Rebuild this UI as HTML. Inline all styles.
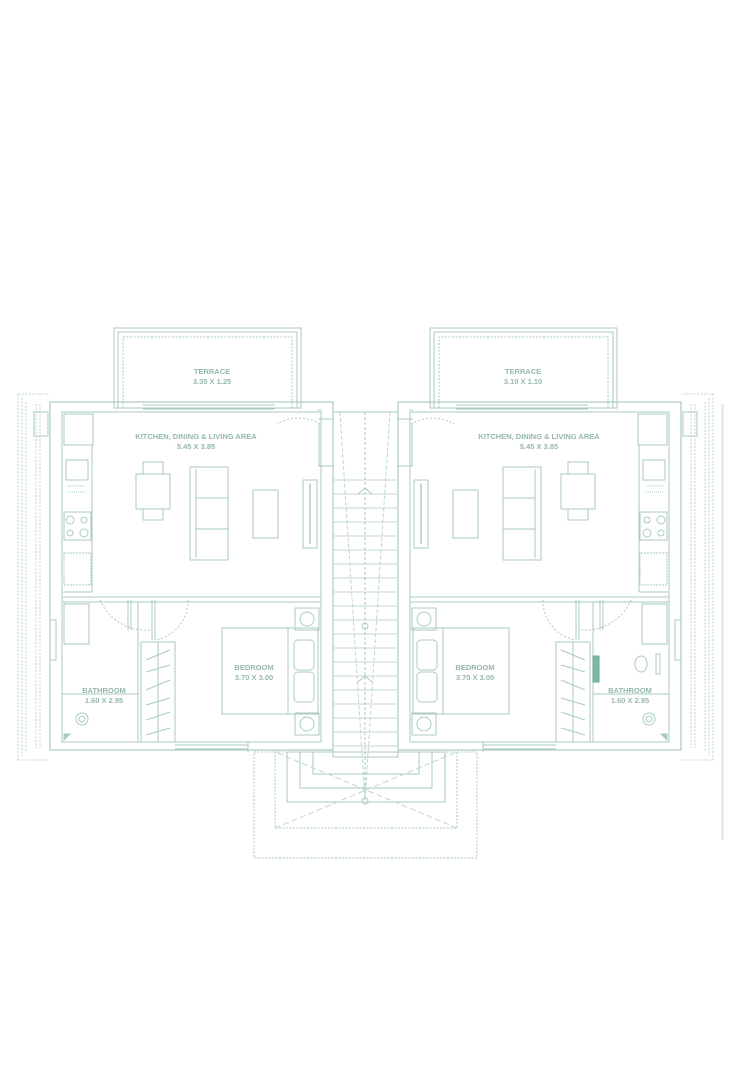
<!DOCTYPE html>
<html><head><meta charset="utf-8"><style>
html,body{margin:0;padding:0;background:#fff;width:731px;height:1080px;overflow:hidden}
svg{display:block}
text{font-family:"Liberation Sans",sans-serif;font-weight:bold;fill:#95b8ad;font-size:7.5px;text-anchor:middle}
</style></head><body>
<svg width="731" height="1080" viewBox="0 0 731 1080" xmlns="http://www.w3.org/2000/svg">
<defs>
<g id="unit" fill="none" stroke="#a9cbc1" stroke-width="1">
  <g stroke-dasharray="2,1.5" stroke="#bdd6cf">
    <path d="M18,394 H50 M18,394 V760 M22,398 V756 M26,402 V752 M18,760 H50 M36,404 V748 M40,404 V748"/>
  </g>
  <rect x="34" y="412" width="14" height="24"/>
  <rect x="114" y="328" width="187" height="80"/>
  <rect x="118" y="332" width="179" height="76"/>
  <rect x="123" y="337" width="169" height="71" stroke-dasharray="2,1.5"/>
  <rect x="50" y="402" width="283" height="348" stroke-width="1.2"/>
  <rect x="62" y="412" width="259" height="330"/>
  <path d="M143,405 H275 M143,409 H275"/>
  <rect x="64" y="414" width="29" height="31"/>
  <path d="M92,445 V592 M63,592 H92"/>
  <rect x="66" y="460" width="22" height="20"/>
  <path d="M68,486 H86 M68,492 H86" stroke-dasharray="1,1"/>
  <rect x="64" y="512" width="27" height="28"/>
  <circle cx="70" cy="520" r="4"/><circle cx="84" cy="520" r="3"/><circle cx="70" cy="533" r="3"/><circle cx="84" cy="533" r="4"/>
  <rect x="64" y="553" width="27" height="32" stroke-dasharray="2,1"/>
  <path d="M62,597 H321 M62,602 H321" />
  <rect x="136" y="474" width="34" height="35"/>
  <rect x="143" y="462" width="20" height="12"/>
  <rect x="143" y="509" width="20" height="11"/>
  <rect x="190" y="467" width="38" height="93"/>
  <path d="M196,469 V558 M196,498 H228 M196,529 H228"/>
  <rect x="253" y="490" width="25" height="48"/>
  <rect x="303" y="480" width="14" height="68"/>
  <path d="M310,484 V544" stroke-width="1.5"/>
  <path d="M320,424 A42,42 0 0,0 277,424" stroke-dasharray="2,2"/>
  <path d="M319,424 V466" />
  <path d="M318,410 H322 M318,466 H334 M318,419 H334"/>
  <path d="M100,600 A50,50 0 0,0 150,630 M188,600 A40,40 0 0,1 156,640" stroke-dasharray="2,2"/>
  <path d="M128,600 V630 M131,600 V630 M152,600 V640 M155,600 V640"/>
  <path d="M138,602 V742 M62,694 H138"/>
  <rect x="64" y="604" width="25" height="40"/>
  <circle cx="82" cy="719" r="6"/><circle cx="82" cy="719" r="3"/>
  <path d="M64,740 L70,734 L64,734Z" fill="#a9cbc1"/>
  <path d="M50,660 H56 V620 H50"/>
  <rect x="141" y="642" width="34" height="100"/>
  <path d="M158,642 V742"/>
  <path d="M146,660 L170,650 M146,672 L170,665 M146,690 L170,680 M146,705 L170,698 M146,720 L170,712 M146,735 L170,728"/>
  <rect x="222" y="628" width="96" height="86"/>
  <path d="M288,628 V714"/>
  <rect x="294" y="640" width="20" height="30" rx="4"/>
  <rect x="294" y="672" width="20" height="30" rx="4"/>
  <rect x="295" y="608" width="24" height="22"/><circle cx="307" cy="619" r="7"/>
  <rect x="295" y="713" width="24" height="22"/><circle cx="307" cy="724" r="7"/>
  <path d="M175,745 H248 M175,749 H248 M248,742 V752"/>
</g>
</defs>
<use href="#unit"/>
<use href="#unit" transform="translate(731,0) scale(-1,1)"/>
<g fill="none" stroke="#a9cbc1" stroke-width="1">
  <ellipse cx="641" cy="664" rx="6" ry="8"/><rect x="656" y="654" width="4" height="20"/>
  <rect x="593" y="656" width="6" height="26" fill="#7fb8a3" stroke="#6aa88f"/>
  <rect x="333" y="412" width="65" height="345"/>
  <path d="M333,480 H398 M333,494 H398 M333,508 H398 M333,522 H398 M333,536 H398 M333,550 H398 M333,564 H398 M333,578 H398 M333,592 H398 M333,606 H398 M333,620 H398 M333,634 H398 M333,648 H398 M333,662 H398 M333,676 H398 M333,690 H398 M333,704 H398 M333,718 H398 M333,732 H398 M333,746 H398" stroke="#c3dad3"/>
  <path d="M365,412 V800" stroke-dasharray="3,2"/>
  <path d="M340,412 L365,800 L390,412" stroke-dasharray="4,2" stroke="#bdd6cf"/>
  <path d="M358,494 L365,488 L372,494 M358,682 L365,676 L372,682"/>
  <circle cx="365" cy="626" r="3"/><circle cx="365" cy="801" r="3"/>
  <g stroke-dasharray="2,1.5">
    <rect x="254" y="752" width="223" height="106"/>
    <rect x="275" y="752" width="182" height="76"/>
  </g>
  <rect x="287" y="752" width="158" height="50"/>
  <rect x="300" y="752" width="132" height="36"/>
  <rect x="313" y="752" width="106" height="22"/>
  <path d="M275,828 L457,752 M457,828 L275,752" stroke-dasharray="6,3" stroke="#bdd6cf"/>
</g>
<rect x="721" y="404" width="3" height="436" fill="#e6eeec"/>
<text x="212" y="374">TERRACE</text><text x="212" y="384">3.35 X 1.25</text>
<text x="523" y="374">TERRACE</text><text x="523" y="384">3.10 X 1.10</text>
<text x="196" y="439">KITCHEN, DINING &amp; LIVING AREA</text><text x="196" y="449">5.45 X 3.85</text>
<text x="539" y="439">KITCHEN, DINING &amp; LIVING AREA</text><text x="539" y="449">5.45 X 3.85</text>
<text x="254" y="670">BEDROOM</text><text x="254" y="680">3.70 X 3.00</text>
<text x="475" y="670">BEDROOM</text><text x="475" y="680">3.70 X 3.00</text>
<text x="104" y="693">BATHROOM</text><text x="104" y="703">1.60 X 2.95</text>
<text x="630" y="693">BATHROOM</text><text x="630" y="703">1.60 X 2.95</text>
</svg>
</body></html>
